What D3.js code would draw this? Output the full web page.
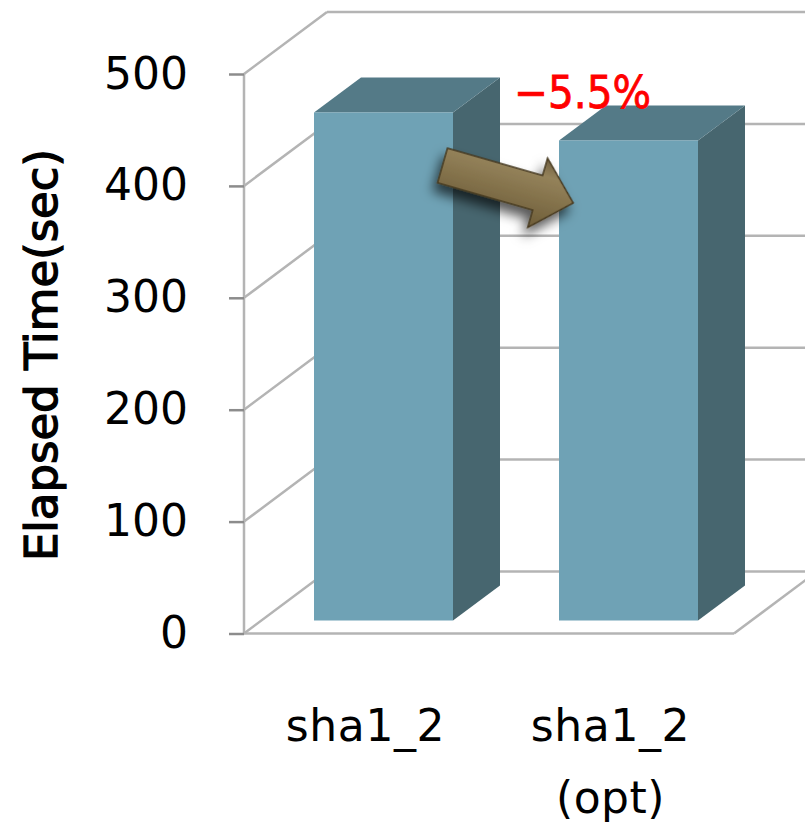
<!DOCTYPE html>
<html>
<head>
<meta charset="utf-8">
<script src="https://cdn.jsdelivr.net/npm/d3@7"></script>
<style>
  html, body { margin: 0; padding: 0; background: #fff; }
  svg { display: block; }
  text { font-family: "DejaVu Sans", sans-serif; }
</style>
</head>
<body>
<div id="chart"></div>
<script>
// Elapsed time of the two sha1_2 builds
const categories = ["sha1_2", "sha1_2 (opt)"];
const categoryLines = [["sha1_2"], ["sha1_2", "(opt)"]];
const elapsed = [454, 429];
const yTicks = [0, 100, 200, 300, 400, 500];
const yTitle = "Elapsed Time(sec)";
const changeLabel = "−5.5%";

const W = 805, H = 825;
const svg = d3.select("#chart").append("svg").attr("width", W).attr("height", H);

const y = d3.scaleLinear().domain([0, 500]).range([633.5, 74]);
const x = d3.scaleBand().domain(categories).range([244, 734]);

// Oblique projection: how far the back wall and each bar sit from the front plane
const wall = { dx: 83, dy: -62 };
const inset = { dx: 17, dy: -13 };
const depth = { dx: 47, dy: -35 };
const barW = 139;

const defs = svg.append("defs");
const grad = defs.append("linearGradient").attr("id", "arrowFill")
  .attr("x1", 0).attr("y1", 0).attr("x2", 0).attr("y2", 1);
grad.append("stop").attr("offset", "0%").attr("stop-color", "#6f5e40");
grad.append("stop").attr("offset", "25%").attr("stop-color", "#94825a");
grad.append("stop").attr("offset", "100%").attr("stop-color", "#6e5d38");
const shadow = defs.append("filter").attr("id", "arrowShadow")
  .attr("x", "-30%").attr("y", "-30%").attr("width", "160%").attr("height", "190%");
shadow.append("feDropShadow").attr("dx", -2).attr("dy", 9).attr("stdDeviation", 6)
  .attr("flood-color", "#000").attr("flood-opacity", 0.65);

// Chart frame: back wall gridlines, wall-to-front diagonals, floor
const gridColor = "#b4b4b4";
const frame = svg.append("g").attr("fill", "none").attr("stroke", gridColor).attr("stroke-width", 2.5);
frame.selectAll("line.back").data(yTicks).join("line")
  .attr("class", "back")
  .attr("x1", x.range()[0] + wall.dx).attr("x2", W + 5)
  .attr("y1", d => y(d) + wall.dy).attr("y2", d => y(d) + wall.dy);
frame.selectAll("line.diag").data(yTicks).join("line")
  .attr("class", "diag")
  .attr("x1", x.range()[0]).attr("x2", x.range()[0] + wall.dx)
  .attr("y1", d => y(d)).attr("y2", d => y(d) + wall.dy);
frame.append("line")
  .attr("x1", x.range()[0]).attr("x2", x.range()[0])
  .attr("y1", y(500)).attr("y2", y(0));
frame.append("line")
  .attr("x1", x.range()[0]).attr("x2", x.range()[1])
  .attr("y1", y(0)).attr("y2", y(0));
frame.append("line")
  .attr("x1", x.range()[1]).attr("x2", x.range()[1] + wall.dx)
  .attr("y1", y(0)).attr("y2", y(0) + wall.dy);

// Value axis
const yAxis = svg.append("g").attr("transform", `translate(${x.range()[0]},0)`)
  .call(d3.axisLeft(y).tickValues(yTicks).tickSize(15).tickPadding(41));
yAxis.select(".domain").remove();
yAxis.selectAll("line").attr("stroke", "#8c8c8c").attr("stroke-width", 2.5);
yAxis.selectAll("text").attr("font-size", 44).attr("fill", "#000")
  .attr("font-family", "DejaVu Sans");

// Bars: front, top and side faces
const bars = svg.append("g").selectAll("g").data(categories.map((c, i) => ({ c, v: elapsed[i] }))).join("g");
const barLeft = d => x(d.c) + x.bandwidth() / 2 - barW / 2 + inset.dx;
const barBase = y(0) + inset.dy;
const barTop = d => y(d.v) + inset.dy;
const poly = pts => pts.map(p => p.join(",")).join(" ");

bars.append("polygon").attr("fill", "#47666f").attr("points", d => poly([
  [barLeft(d) + barW, barTop(d)],
  [barLeft(d) + barW + depth.dx, barTop(d) + depth.dy],
  [barLeft(d) + barW + depth.dx, barBase + depth.dy],
  [barLeft(d) + barW, barBase]
]));
bars.append("polygon").attr("fill", "#547a87").attr("points", d => poly([
  [barLeft(d), barTop(d)],
  [barLeft(d) + depth.dx, barTop(d) + depth.dy],
  [barLeft(d) + barW + depth.dx, barTop(d) + depth.dy],
  [barLeft(d) + barW, barTop(d)]
]));
bars.append("rect").attr("fill", "#6fa2b5")
  .attr("x", barLeft).attr("y", barTop).attr("width", barW).attr("height", d => barBase - barTop(d));

// Category labels
const xLabels = svg.append("g").attr("text-anchor", "middle").attr("font-size", 44).attr("fill", "#000");
categories.forEach((c, i) => {
  categoryLines[i].forEach((line, j) => {
    xLabels.append("text")
      .attr("x", x(c) + x.bandwidth() / 2 - 1)
      .attr("y", 741 + j * 72)
      .attr("letter-spacing", line.includes("_") ? 0.6 : 0.5)
      .text(line);
  });
});

// Value axis title
svg.append("text")
  .attr("transform", "translate(57,355) rotate(-90)")
  .attr("text-anchor", "middle")
  .attr("font-size", 45)
  .attr("stroke", "#000").attr("stroke-width", 1.3)
  .text(yTitle);

// Arrow from the first bar to the second, with the change it represents
const arrowLen = 136, shaftHalf = 18, headHalf = 36, headLen = 37;
const arrowShape = [
  [0, -shaftHalf], [arrowLen - headLen, -shaftHalf], [arrowLen - headLen, -headHalf],
  [arrowLen, 0],
  [arrowLen - headLen, headHalf], [arrowLen - headLen, shaftHalf], [0, shaftHalf]
];
svg.append("polygon")
  .attr("points", poly(arrowShape))
  .attr("transform", "translate(442.5,165.5) rotate(16)")
  .attr("fill", "url(#arrowFill)")
  .attr("stroke", "#46381f").attr("stroke-width", 1.5)
  .attr("filter", "url(#arrowShadow)");

svg.append("text")
  .attr("x", 514).attr("y", 108)
  .attr("font-size", 45)
  .attr("textLength", 137).attr("lengthAdjust", "spacingAndGlyphs")
  .attr("fill", "#ff0000")
  .attr("stroke", "#ff0000").attr("stroke-width", 0.8)
  .text(changeLabel);
</script>
</body>
</html>
